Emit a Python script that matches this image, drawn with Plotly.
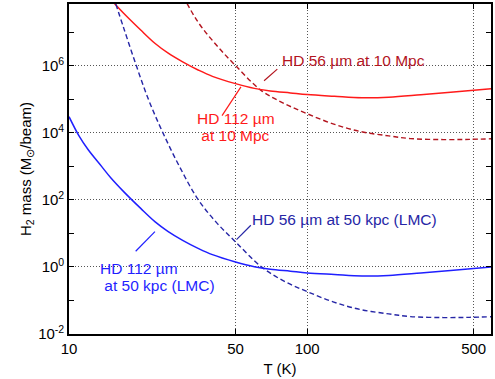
import plotly.graph_objects as go
import math

# ---------------- data ----------------
# HD 112 um at 50 kpc (LMC) -- blue solid
T_blue_solid = [10, 11, 12, 13.7, 15, 17, 20, 23, 26, 30, 35, 40, 50, 60, 70, 85,
                100, 130, 170, 220, 300, 400, 500, 591]
M_blue_solid = [30400, 8280, 3240, 1000, 451, 174, 55.8, 22.2, 11.6, 6.25, 3.54, 2.33,
                1.41, 1.02, 0.857, 0.748, 0.665, 0.596, 0.538, 0.557, 0.661, 0.783, 0.897, 0.995]

# HD 112 um at 10 Mpc -- red solid
T_red_solid = [15, 17, 20, 23, 26, 30, 35, 40, 50, 60, 70, 85,
               100, 130, 170, 220, 300, 400, 500, 591]
M_red_solid = [9.42e7, 3.64e7, 1.17e7, 4.63e6, 2.42e6, 1.31e6, 7.40e5, 4.86e5,
               2.95e5, 2.13e5, 1.79e5, 1.56e5, 1.39e5, 1.24e5, 1.12e5, 1.16e5,
               1.38e5, 1.64e5, 1.87e5, 2.08e5]

# HD 56 um at 50 kpc (LMC) -- blue dashed
T_blue_dash = [15.72, 17, 19.18, 21.66, 24.8, 29.1, 34.7, 41.55, 50, 64.05, 79.9,
               100, 129.3, 167.7, 220, 271.3, 372.7, 480, 591]
M_blue_dash = [6.98e7, 1.29e7, 1.0e6, 9.1e4, 1.0e4, 991, 107, 21.4, 5.64, 1.02, 0.377,
               0.184, 0.0895, 0.0535, 0.0398, 0.0331, 0.0309, 0.0314, 0.0327]

# HD 56 um at 10 Mpc -- red dashed
T_red_dash = [29.1, 34.7, 41.55, 50, 64.05, 79.9, 100, 129.3, 167.7, 220, 271.3,
              372.7, 480, 591]
M_red_dash = [1.93e8, 2.09e7, 4.18e6, 1.02e6, 1.85e5, 7.59e4, 3.72e4, 1.83e4, 1.09e4,
              8.13e3, 6.76e3, 6.31e3, 6.41e3, 6.67e3]

x_tick_vals = [10, 50, 100, 500]
x_tick_text = ["10", "50", "100", "500"]
y_tick_vals = [1e-2, 1e0, 1e2, 1e4, 1e6]
y_tick_text = ["10<sup>-2</sup>", "10<sup>0</sup>", "10<sup>2</sup>", "10<sup>4</sup>", "10<sup>6</sup>"]
y_minor_vals = [1e-1, 1e1, 1e3, 1e5, 1e7]

C_RED = "#ff1a1a"
C_DRED = "#b3141e"
C_BLUE = "#1f1fff"
C_DBLUE = "#2626a6"

labels = [
    # text, T, mass, colour
    ("HD 56 \u00b5m at 10 Mpc", 77.4, 1.41e6, C_DRED),
    ("HD 112 \u00b5m", 34.2, 2.7e4, C_RED),
    (" at 10 Mpc", 34.2, 8.5e3, C_RED),
    ("HD 56 \u00b5m at 50 kpc (LMC)", 58.3, 25.8, C_DBLUE),
    ("HD 112 \u00b5m", 13.4, 0.90, C_BLUE),
    (" at 50 kpc (LMC)", 13.4, 0.281, C_BLUE),
]
pointers = [
    # T pair, mass pair, colour
    ([74.9, 65.9], [7.98e5, 3.58e5], C_DRED),
    ([43.9, 52.7], [3.26e4, 2.37e5], C_RED),
    ([58.0, 50.5], [17.5, 6.55], C_DBLUE),
    ([19.05, 22.95], [2.94, 11.3], C_BLUE),
]

FONT = "Liberation Sans, Arial, Helvetica, sans-serif"

fig = go.Figure()
fig.add_trace(go.Scatter(x=T_red_dash, y=M_red_dash, mode="lines",
                         line=dict(color=C_DRED, width=1.4, dash="5px,3px",
                                   shape="spline", smoothing=1.0)))
fig.add_trace(go.Scatter(x=T_red_solid, y=M_red_solid, mode="lines",
                         line=dict(color=C_RED, width=1.5, shape="spline", smoothing=1.0)))
fig.add_trace(go.Scatter(x=T_blue_dash, y=M_blue_dash, mode="lines",
                         line=dict(color=C_DBLUE, width=1.4, dash="5px,3px",
                                   shape="spline", smoothing=1.0)))
fig.add_trace(go.Scatter(x=T_blue_solid, y=M_blue_solid, mode="lines",
                         line=dict(color=C_BLUE, width=1.5, shape="spline", smoothing=1.0)))

for tx, my, col in pointers:
    fig.add_trace(go.Scatter(x=tx, y=my, mode="lines", line=dict(color=col, width=1.2)))

for txt, t, m, col in labels:
    fig.add_annotation(x=math.log10(t), y=math.log10(m), xref="x", yref="y",
                       text=txt, showarrow=False, xanchor="left", yanchor="middle",
                       borderpad=0,
                       font=dict(family=FONT, size=15.5, color=col))

fig.update_layout(
    width=495, height=379,
    margin=dict(l=69, r=2, t=3, b=45),
    paper_bgcolor="white", plot_bgcolor="white",
    showlegend=False,
    font=dict(family=FONT, size=14, color="black"),
)
fig.update_xaxes(
    type="log", range=[1.0, math.log10(591)],
    tickvals=x_tick_vals, ticktext=x_tick_text,
    ticks="inside", ticklen=5, tickwidth=1, tickcolor="black",
    showline=True, linecolor="black", linewidth=1.6, mirror="ticks",
    showgrid=True, gridcolor="#555555", gridwidth=1, griddash="1px,2px",
    zeroline=False,
    tickfont=dict(family=FONT, size=15, color="black"),
    title=dict(text="T (K)", font=dict(family=FONT, size=15, color="black"), standoff=8),
)
fig.update_yaxes(
    type="log", range=[-2.0, 7.845],
    tickvals=y_tick_vals, ticktext=y_tick_text,
    ticks="inside", ticklen=5, tickwidth=1, tickcolor="black",
    minor=dict(tickvals=y_minor_vals, ticks="inside", ticklen=5, tickwidth=1,
               tickcolor="black", showgrid=False),
    showline=True, linecolor="black", linewidth=1.6, mirror="ticks",
    showgrid=True, gridcolor="#555555", gridwidth=1, griddash="1px,2px",
    zeroline=False,
    tickfont=dict(family=FONT, size=15, color="black"),
    title=dict(text="H<sub>2</sub> mass (M<sub>\u2299</sub>/beam)",
               font=dict(family=FONT, size=15, color="black"), standoff=3),
)

fig.write_html("out.html")
